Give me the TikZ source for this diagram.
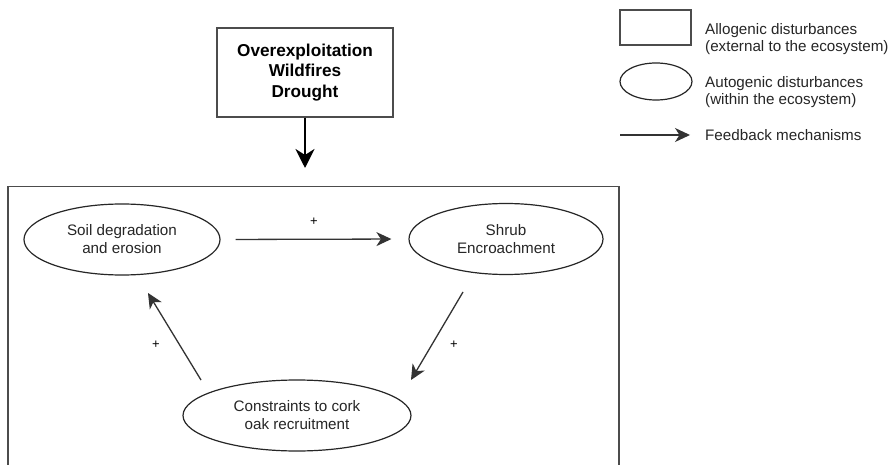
\documentclass[tikz,border=0pt]{standalone}
\usepackage{fontspec}
\setmainfont{Liberation Sans}
\usetikzlibrary{arrows.meta,shapes.geometric,calc}

\tikzset{
  txt/.style={font=\fontsize{15.2}{18}\selectfont, text=black!85, align=center},
  boldtxt/.style={font=\fontsize{17.2}{20.5}\selectfont\bfseries, align=center},
  legtxt/.style={font=\fontsize{15.2}{17}\selectfont, text=black!85, align=left, anchor=west, inner sep=0pt},
  oval/.style={ellipse, draw=black!85, line width=1.2pt, inner sep=0pt},
  box/.style={rectangle, draw=black!70, line width=1.3pt, inner sep=0pt},
  fb/.style={draw=black!80, line width=1.3pt, -{Stealth[length=15pt,width=14pt,inset=4.5pt]}},
  plus/.style={font=\fontsize{13}{14}\selectfont, inner sep=0pt}
}

\begin{document}
\begin{tikzpicture}[x=1pt,y=-1pt]
  \useasboundingbox (0,0) rectangle (894,465);
  \fill[white] (0,0) rectangle (894,465);

  % external drivers
  \node[box, minimum width=176, minimum height=89, boldtxt] (drivers) at (305,72.5)
    {Overexploitation\\Wildfires\\Drought};
  \coordinate (system) at (305,168);
  \draw[line width=2.6pt, -{Stealth[length=19pt,width=19pt,inset=6pt]}] (drivers.south) -- (system);

  % ecosystem frame (open at the bottom)
  \draw[black!70, line width=1.3pt] (8,470) -- (8,186.5) -- (619,186.5) -- (619,470);

  % autogenic disturbances
  \node[oval, minimum width=196, minimum height=71, txt] (soil) at (122,239.5)
    {Soil degradation\\and erosion};
  \node[oval, minimum width=194, minimum height=71, txt] (shrub) at (506,239)
    {Shrub\\Encroachment};
  \node[oval, minimum width=228, minimum height=71, txt] (cons) at (297,415.5)
    {Constraints to cork\\oak recruitment};

  % feedback loop
  \draw[fb, shorten <=15pt, shorten >=17pt] (soil.east) -- (shrub.west);
  \coordinate (s1) at (463,292);
  \coordinate (c1) at (411,380);
  \coordinate (c2) at (201,380);
  \coordinate (s2) at (148,293);
  \draw[fb] (s1) -- (c1);
  \draw[fb] (c2) -- (s2);
  \node[plus] (p1) at (314,222) {+};
  \node[plus] (p2) at (454,345) {+};
  \node[plus] (p3) at (156,345) {+};

  % legend
  \node[box, minimum width=71, minimum height=35] (lrect) at (655.5,27.5) {};
  \node[legtxt] (lrtxt) at (705,39.5) {Allogenic disturbances\\(external to the ecosystem)};
  \node[oval, minimum width=72, minimum height=37] (loval) at (656,81.5) {};
  \node[legtxt] (lotxt) at (705,92) {Autogenic disturbances\\(within the ecosystem)};
  \coordinate (la) at (620,135);
  \coordinate (lb) at (690,135);
  \draw[fb] (la) -- (lb);
  \node[legtxt] (latxt) at (705,135) {Feedback mechanisms};
\end{tikzpicture}
\end{document}
